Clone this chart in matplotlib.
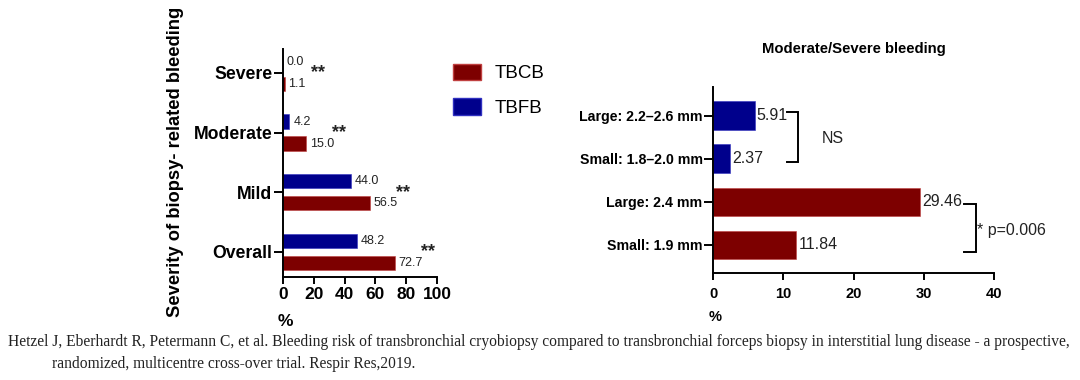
import matplotlib
matplotlib.use("Agg")
import matplotlib.pyplot as plt
import numpy as np
from matplotlib.patches import Patch

# ---- data: left panel ----
severity_cats = ["Overall", "Mild", "Moderate", "Severe"]
tbcb_vals = [72.7, 56.5, 15.0, 1.1]
tbfb_vals = [48.2, 44.0, 4.2, 0.0]
sig_marks = ["**", "**", "**", "**"]
left_xticks = [0, 20, 40, 60, 80, 100]

# ---- data: right panel ----
size_cats = ["Small: 1.9 mm", "Large: 2.4 mm", "Small: 1.8\u20132.0 mm", "Large: 2.2\u20132.6 mm"]
size_vals = [11.84, 29.46, 2.37, 5.91]
size_group = ["TBCB", "TBCB", "TBFB", "TBFB"]
right_xticks = [0, 10, 20, 30, 40]
bracket_texts = ["* p=0.006", "NS"]

RED = "#7d0000"
BLUE = "#00008c"
colors = {"TBCB": RED, "TBFB": BLUE}

plt.rcParams["font.family"] = ["Liberation Sans", "DejaVu Sans"]

fig = plt.figure(figsize=(10.8, 3.8), dpi=100)

# ================= left panel =================
axL = fig.add_axes([283/1080, 1-277/380, 154/1080, 228/380])
y = np.arange(len(severity_cats))
h = 0.24
off = 0.185
axL.barh(y + off, tbfb_vals, height=h, color=BLUE, edgecolor="#3030c0", linewidth=0.4)
axL.barh(y - off, tbcb_vals, height=h, color=RED, edgecolor="#c04040", linewidth=0.4)
for yi, v in zip(y, tbfb_vals):
    axL.text(v + 2.5, yi + off, f"{v:.1f}", va="center", ha="left", fontsize=9, color="#222222")
for yi, v in zip(y, tbcb_vals):
    axL.text(v + 2.5, yi - off, f"{v:.1f}", va="center", ha="left", fontsize=9, color="#222222")
for yi, a, b, s in zip(y, tbcb_vals, tbfb_vals, sig_marks):
    axL.text(max(a, b) + 17, yi + 0.0, s, va="center", ha="left", fontsize=13,
             fontweight="bold", color="#222222")
axL.set_xlim(0, 100)
axL.set_ylim(-0.42, 3.4)
axL.set_yticks(y)
axL.set_yticklabels(severity_cats, fontsize=12.7, fontweight="bold")
axL.set_xticks(left_xticks)
axL.set_xticklabels([str(t) for t in left_xticks], fontsize=12.5, fontweight="bold")
for sp in ["top", "right"]:
    axL.spines[sp].set_visible(False)
for sp in ["left", "bottom"]:
    axL.spines[sp].set_linewidth(1.4)
axL.tick_params(axis="y", length=6.5, width=1.4, pad=1)
axL.tick_params(axis="x", length=5, width=1.4, pad=2)
fig.text(285/1080, 1-322/380, "%", fontsize=12.5, fontweight="bold", ha="center", va="center")
fig.text(175/1080, 1-162/380, "Severity of biopsy- related bleeding", rotation=90,
         fontsize=13.2, fontweight="bold", ha="center", va="center")

# legend
leg_handles = [Patch(facecolor=RED, edgecolor="#c04040"), Patch(facecolor=BLUE, edgecolor="#3030c0")]
fig.legend(leg_handles, ["TBCB", "TBFB"], loc="upper left", bbox_to_anchor=(436/1080, 1-47/380),
           frameon=False, fontsize=13.5, handlelength=1.5, handleheight=0.95,
           labelspacing=0.85, handletextpad=0.7)

# ================= right panel =================
axR = fig.add_axes([713/1080, 1-273/380, 281/1080, 186.3/380])
yr = np.arange(len(size_cats))
axR.barh(yr, size_vals, height=0.66, color=[colors[g] for g in size_group],
         edgecolor=["#c04040" if g == "TBCB" else "#3030c0" for g in size_group], linewidth=0.4)
for yi, v in zip(yr, size_vals):
    axR.text(v + 0.3, yi, f"{v:.2f}", va="center", ha="left", fontsize=11.5, color="#222222")
axR.set_xlim(0, 40)
axR.set_ylim(-0.65, 3.67)
axR.set_yticks(yr)
axR.set_yticklabels(size_cats, fontsize=10.2, fontweight="bold")
axR.set_xticks(right_xticks)
axR.set_xticklabels([str(t) for t in right_xticks], fontsize=10.5, fontweight="bold")
for sp in ["top", "right"]:
    axR.spines[sp].set_visible(False)
for sp in ["left", "bottom"]:
    axR.spines[sp].set_linewidth(1.4)
axR.tick_params(axis="y", length=6.5, width=1.4, pad=1)
axR.tick_params(axis="x", length=5, width=1.4, pad=5)
axR.set_title("Moderate/Severe bleeding", fontsize=10.7, fontweight="bold", pad=24)
fig.text(715/1080, 1-317/380, "%", fontsize=10.5, fontweight="bold", ha="center", va="center")

# brackets
def bracket(ax, x0, x1, ytop, ybot, label, tx):
    ax.plot([x0, x1, x1, x0], [ytop, ytop, ybot, ybot], color="black", lw=1.4,
            clip_on=False, solid_joinstyle="miter")
    ax.text(tx, (ytop + ybot) / 2 - 0.05, label, va="center", ha="left", fontsize=11.5,
            color="#222222")

bracket(axR, size_vals[3] + 4.6, size_vals[3] + 6.2, 3.09, 1.93, bracket_texts[1], 15.5)
bracket(axR, size_vals[1] + 6.3, size_vals[1] + 7.95, 0.95, -0.16, bracket_texts[0], 37.6)

# citation
fig.text(8/1080, 1-342/380,
         "Hetzel J, Eberhardt R, Petermann C, et al. Bleeding risk of transbronchial cryobiopsy compared to "
         "transbronchial forceps biopsy in interstitial lung disease - a prospective,",
         fontsize=11.2, family="Liberation Serif", va="center", ha="left", color="#222222")
fig.text(52/1080, 1-364/380,
         "randomized, multicentre cross-over trial. Respir Res,2019.",
         fontsize=11.2, family="Liberation Serif", va="center", ha="left", color="#222222")

fig.savefig("out.png", dpi=100)
